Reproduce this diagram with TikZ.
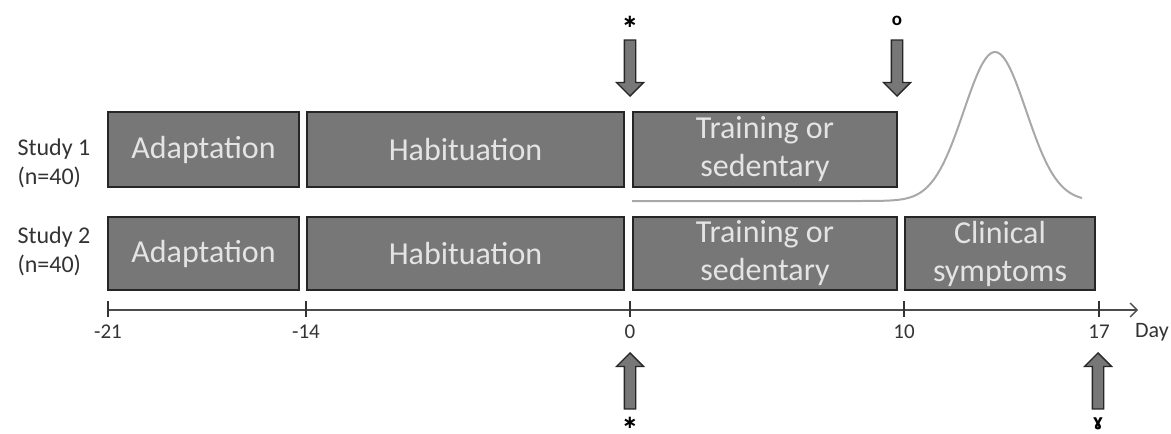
\documentclass[tikz,border=0pt]{standalone}
\usepackage{fontspec}
\setmainfont{Carlito}
\newfontfamily\symfont{DejaVu Sans}
\usepackage{xcolor}
\usepackage{tikz}
\usetikzlibrary{shapes.arrows, arrows.meta, positioning}

\definecolor{boxgray}{HTML}{777777}
\definecolor{boxtext}{HTML}{E4E4E4}
\definecolor{curvegray}{HTML}{A8A8A8}

\tikzset{
  phase/.style={draw=black!85, line width=1.8pt, fill=boxgray, text=boxtext,
    align=center, font=\fontsize{32}{38}\selectfont, inner sep=0pt},
  blockarrow/.style={single arrow, draw=black!85, fill=boxgray, line width=1.3pt,
    minimum height=56pt, inner sep=5pt, single arrow head extend=8pt,
    single arrow tip angle=90},
  ticklabel/.style={text=black!80, font=\fontsize{21}{24}\selectfont, inner sep=0pt},
  marker/.style={font=\symfont\bfseries\fontsize{18}{20}\selectfont, anchor=base, inner sep=0pt}
}

\begin{document}
\begin{tikzpicture}[x=1pt, y=-1pt]
\useasboundingbox (0,0) rectangle (1171,434);

% Study labels
\node[align=left, anchor=west, text=black!80, font=\fontsize{24}{29}\selectfont] (study1) at (14,163) {Study 1\\(n=40)};
\node[align=left, anchor=west, text=black!80, font=\fontsize{24}{29}\selectfont] (study2) at (14,251) {Study 2\\(n=40)};

% Study 1 boxes
\node[phase, minimum width=191pt, minimum height=75pt] (adapt1) at (203.5,149.5) {Adaptation};
\node[phase, minimum width=317pt, minimum height=75pt] (habit1) at (465.5,149.5) {Habituation};
\node[phase, minimum width=264pt, minimum height=75pt] (train1) at (765,149.5) {Training or\\sedentary};

% Study 2 boxes
\node[phase, minimum width=191pt, minimum height=73pt] (adapt2) at (203.5,253.5) {Adaptation};
\node[phase, minimum width=317pt, minimum height=73pt] (habit2) at (465.5,253.5) {Habituation};
\node[phase, minimum width=264pt, minimum height=73pt] (train2) at (765,253.5) {Training or\\sedentary};
\node[phase, minimum width=190pt, minimum height=73pt] (clinic2) at (1000,253.5) {Clinical\\symptoms};

% Symptom curve
\draw[curvegray, line width=2pt, line join=round] plot[domain=632:1082, samples=150] (\x, {201-149*exp(-((\x-995)/44)^2)});

% Time axis
\coordinate (axisstart) at (108,310);
\coordinate (axisend) at (1138,310);
\draw[-{Straight Barb[length=7pt, width=14pt]}, black!70, line width=1.3pt] (axisstart) -- (axisend);
\foreach \xpos/\day in {108/-21, 306/-14, 630/0, 904/10, 1099/17} {
  \draw[black!80, line width=1.2pt] (\xpos,301) -- (\xpos,317);
  \node[ticklabel] at (\xpos,332) {\day};
}
\node[ticklabel, font=\fontsize{22}{24}\selectfont] (day) at (1152,332) {Day};

% Arrows above
\node[blockarrow, shape border rotate=270, anchor=tip] (arrowtop0) at (630,97) {};
\node[marker] (startop) at (630,27) {∗};
\node[blockarrow, shape border rotate=270, anchor=tip] (arrowtop10) at (897,97) {};
\node[marker, font=\bfseries\fontsize{19}{20}\selectfont] (circtop) at (897,25) {o};

% Arrows below
\node[blockarrow, shape border rotate=90, anchor=tip] (arrowbot0) at (630,352) {};
\node[marker] (starbot) at (630,428) {∗};
\node[blockarrow, shape border rotate=90, anchor=tip] (arrowbot17) at (1098,352) {};
\node[marker, font=\symfont\bfseries\fontsize{16}{18}\selectfont] (gammabot) at (1098,426) {ɣ};
\end{tikzpicture}
\end{document}
